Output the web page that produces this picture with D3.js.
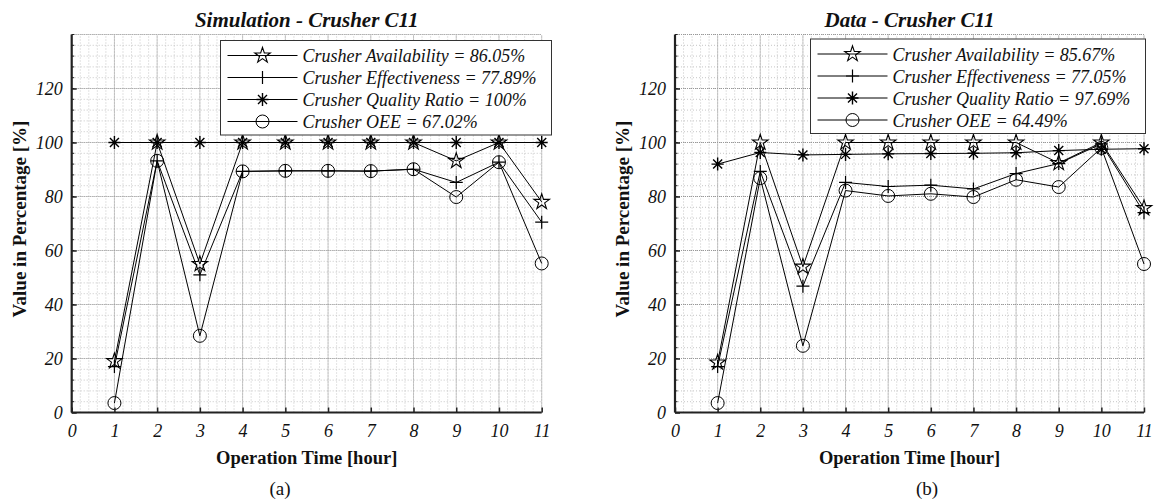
<!DOCTYPE html>
<html>
<head>
<meta charset="utf-8">
<script src="https://cdn.jsdelivr.net/npm/d3@7"></script>
<style>
  body { margin: 0; background: #fff; }
  svg text { font-family: "Liberation Serif", "Times New Roman", Times, serif !important; fill: #111; }
</style>
</head>
<body>
<div id="chart"></div>
<script>
// hours on the x axis
var hours = [1, 2, 3, 4, 5, 6, 7, 8, 9, 10, 11];
var xTicks = [0, 1, 2, 3, 4, 5, 6, 7, 8, 9, 10, 11];
var yTicks = [0, 20, 40, 60, 80, 100, 120];

// panel (a) simulation
var simAvailability = [19, 100, 55, 100, 100, 100, 100, 100, 93.2, 100, 78];
var simEffectiveness = [17, 93.2, 51, 89.3, 89.5, 89.5, 89.4, 90.1, 85.2, 92.7, 70.5];
var simQuality = [100, 100, 100, 100, 100, 100, 100, 100, 100, 100, 100];
var simOEE = [3.5, 93.2, 28.4, 89.3, 89.5, 89.5, 89.4, 90.1, 79.8, 92.7, 55.2];
var simLegend = ["Crusher Availability = 86.05%", "Crusher Effectiveness = 77.89%",
  "Crusher Quality Ratio = 100%", "Crusher OEE = 67.02%"];

// panel (b) data
var dataAvailability = [18.5, 100, 54, 100, 100, 100, 100, 100, 92.4, 100, 75.7];
var dataEffectiveness = [17, 89.3, 46.8, 85.2, 83.7, 84.2, 82.8, 88.5, 92.2, 99.5, 74];
var dataQuality = [92, 96.3, 95.4, 95.6, 95.8, 95.9, 96, 96.2, 97, 97.5, 97.7];
var dataOEE = [3.5, 86.8, 24.7, 82.2, 80.2, 81, 79.8, 86.2, 83.5, 98, 55];
var dataLegend = ["Crusher Availability = 85.67%", "Crusher Effectiveness = 77.05%",
  "Crusher Quality Ratio = 97.69%", "Crusher OEE = 64.49%"];

var markers = ["star", "plus", "asterisk", "circle"];

var width = 1157, height = 502;
var svg = d3.select("#chart").append("svg").attr("width", width).attr("height", height);

function drawMarker(g, type, cx, cy) {
  var m = g.append("g").attr("transform", "translate(" + cx + "," + cy + ")")
    .attr("fill", "none").attr("stroke", "#000").attr("stroke-width", 1);
  if (type == "circle") {
    m.append("circle").attr("r", 6.5);
  } else if (type == "plus") {
    m.append("path").attr("d", "M-6.5,0H6.5M0,-6.5V6.5").attr("stroke-width", 1.2);
  } else if (type == "asterisk") {
    m.append("path").attr("d", "M-6,0H6M0,-6.5V6.5M-4.5,-4.5L4.5,4.5M-4.5,4.5L4.5,-4.5").attr("stroke-width", 1.4);
  } else if (type == "star") {
    m.append("path").attr("d", d3.symbol().type(d3.symbolStar).size(75)()).attr("stroke-width", 1.1);
  }
}

function drawPanel(opts) {
  var x = d3.scaleLinear().domain([0, 11]).range([opts.left, opts.right]);
  var y = d3.scaleLinear().domain([0, 140]).range([412.5, 34.5]);
  var g = svg.append("g");

  // minor grid
  var minorX = d3.range(0, 11.001, 0.2);
  var minorY = d3.range(0, 140.001, 4);
  g.append("g").selectAll("line").data(minorX).enter().append("line")
    .attr("x1", function (d) { return x(d); }).attr("x2", function (d) { return x(d); })
    .attr("y1", y(0)).attr("y2", y(140))
    .attr("stroke", "#b8b8b8").attr("stroke-width", 0.8).attr("stroke-dasharray", "1,2");
  g.append("g").selectAll("line").data(minorY).enter().append("line")
    .attr("x1", x(0)).attr("x2", x(11))
    .attr("y1", function (d) { return y(d); }).attr("y2", function (d) { return y(d); })
    .attr("stroke", "#b8b8b8").attr("stroke-width", 0.8).attr("stroke-dasharray", "1,2");
  // major grid
  g.append("g").selectAll("line").data(xTicks).enter().append("line")
    .attr("x1", function (d) { return x(d); }).attr("x2", function (d) { return x(d); })
    .attr("y1", y(0)).attr("y2", y(140))
    .attr("stroke", "#999").attr("stroke-width", 1).attr("stroke-dasharray", "1,1");
  g.append("g").selectAll("line").data(d3.range(0, 141, 20)).enter().append("line")
    .attr("x1", x(0)).attr("x2", x(11))
    .attr("y1", function (d) { return y(d); }).attr("y2", function (d) { return y(d); })
    .attr("stroke", "#999").attr("stroke-width", 1).attr("stroke-dasharray", "1,1");

  // series
  var line = d3.line().x(function (d, i) { return x(hours[i]); }).y(function (d) { return y(d); });
  opts.series.forEach(function (s, k) {
    g.append("path").datum(s).attr("d", line).attr("fill", "none")
      .attr("stroke", "#000").attr("stroke-width", 1);
    s.forEach(function (v, i) { drawMarker(g, markers[k], x(hours[i]), y(v)); });
  });

  // axes
  var xAxis = g.append("g").attr("transform", "translate(0," + y(0) + ")")
    .call(d3.axisBottom(x).tickValues(xTicks).tickSize(-5).tickPadding(12));
  var yAxis = g.append("g").attr("transform", "translate(" + x(0) + ",0)")
    .call(d3.axisLeft(y).tickValues(yTicks).tickSize(-5).tickPadding(9));
  // minor y ticks
  g.append("g").selectAll("line").data(minorY).enter().append("line")
    .attr("x1", x(0)).attr("x2", x(0) + 2.5)
    .attr("y1", function (d) { return y(d); }).attr("y2", function (d) { return y(d); })
    .attr("stroke", "#222").attr("stroke-width", 1);
  [xAxis, yAxis].forEach(function (a) {
    a.attr("font-family", null);
    a.select(".domain").attr("stroke", "#222").attr("stroke-width", 2.2);
    a.selectAll(".tick line").attr("stroke", "#222").attr("stroke-width", 1.5);
    a.selectAll("text").style("font-style", "italic")
      .style("font-size", "18px").attr("fill", "#333");
  });
  xAxis.select(".domain").attr("d", "M" + x(0) + ",0H" + x(11));
  yAxis.select(".domain").attr("d", "M0," + y(0) + "V" + y(140));

  // labels
  g.append("text").attr("x", (opts.left + opts.right) / 2).attr("y", 26.5)
    .attr("text-anchor", "middle").style("font-weight", "bold").style("font-style", "italic")
    .style("font-size", "21px").text(opts.title);
  g.append("text").attr("x", (opts.left + opts.right) / 2).attr("y", 464)
    .attr("text-anchor", "middle").style("font-weight", "bold").style("font-size", "18.5px")
    .text("Operation Time [hour]");
  g.append("text").attr("transform", "translate(" + (opts.left - 46) + "," + 219 + ") rotate(-90)")
    .attr("text-anchor", "middle").style("font-weight", "bold").style("font-size", "19px")
    .text("Value in Percentage [%]");
  g.append("text").attr("x", opts.captionX).attr("y", 495)
    .attr("text-anchor", "middle").style("font-size", "19px").text(opts.caption);

  // legend
  var lg = g.append("g");
  lg.append("rect").attr("x", opts.legendX).attr("y", opts.legendY)
    .attr("width", opts.legendW).attr("height", 94.5)
    .attr("fill", "#fff").attr("stroke", "#333").attr("stroke-width", 1);
  opts.labels.forEach(function (lab, k) {
    var ly = opts.legendY + 15 + k * 22;
    lg.append("line").attr("x1", opts.legendX + 7).attr("x2", opts.legendX + 77)
      .attr("y1", ly).attr("y2", ly).attr("stroke", "#000").attr("stroke-width", 1);
    drawMarker(lg, markers[k], opts.legendX + 42, ly);
    lg.append("text").attr("x", opts.legendX + 82).attr("y", ly + 6.5)
      .style("font-style", "italic").style("font-size", "18px").attr("fill", "#222").text(lab);
  });
}

drawPanel({
  left: 71.7, right: 541.7, title: "Simulation - Crusher C11", caption: "(a)", captionX: 280,
  series: [simAvailability, simEffectiveness, simQuality, simOEE], labels: simLegend,
  legendX: 220.5, legendY: 40.5, legendW: 331
});
drawPanel({
  left: 675, right: 1144, title: "Data - Crusher C11", caption: "(b)", captionX: 927,
  series: [dataAvailability, dataEffectiveness, dataQuality, dataOEE], labels: dataLegend,
  legendX: 810.5, legendY: 39, legendW: 335
});
</script>
</body>
</html>
